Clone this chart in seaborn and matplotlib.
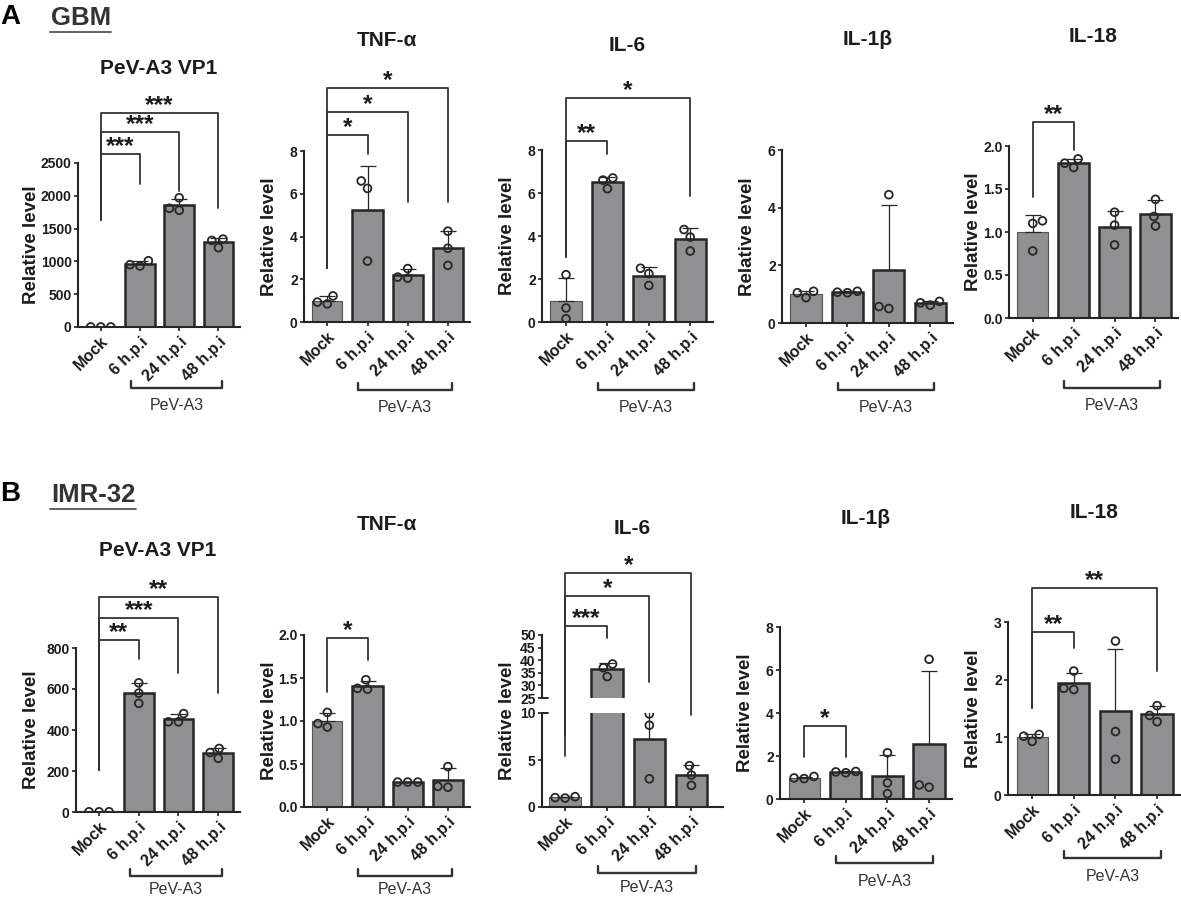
import numpy as np
import pandas as pd
import matplotlib
matplotlib.use("Agg")
import matplotlib.pyplot as plt
import matplotlib.transforms as mtransforms
from matplotlib.lines import Line2D
import seaborn as sns

# --- values (3 replicates per group) ---
GROUPS = ["Mock", "6 h.p.i", "24 h.p.i", "48 h.p.i"]
TARGETS = ["PeV-A3 VP1", "TNF-α", "IL-6", "IL-1β", "IL-18"]

# A: GBM
GBM_VP1 = [[1.0, 0.9, 1.1], [1010, 950, 930], [1970, 1810, 1780], [1340, 1320, 1210]]
GBM_TNF = [[1.22, 0.85, 0.93], [6.6, 6.25, 2.85], [2.5, 2.1, 2.05], [4.25, 3.45, 2.65]]
GBM_IL6 = [[2.2, 0.65, 0.15], [6.7, 6.6, 6.2], [2.5, 2.25, 1.7], [4.3, 3.95, 3.3]]
GBM_IL1B = [[1.1, 0.88, 1.05], [1.05, 1.1, 1.07], [4.45, 0.5, 0.57], [0.62, 0.75, 0.7]]
GBM_IL18 = [[1.13, 1.1, 0.78], [1.85, 1.8, 1.75], [1.23, 1.08, 0.85], [1.38, 1.18, 1.07]]

# B: IMR-32
IMR_VP1 = [[1.0, 0.9, 1.1], [630, 580, 530], [480, 440, 440], [310, 290, 262]]
IMR_TNF = [[1.1, 0.97, 0.93], [1.48, 1.38, 1.37], [0.29, 0.29, 0.29], [0.47, 0.23, 0.24]]
IMR_IL6 = [[0.95, 1.1, 1.0], [38.5, 37.0, 33.5], [9.9, 8.7, 3.0], [4.4, 3.4, 2.3]]
IMR_IL1B = [[0.95, 1.05, 0.98], [1.22, 1.28, 1.26], [2.15, 0.75, 0.25], [6.5, 0.55, 0.65]]
IMR_IL18 = [[1.05, 0.93, 1.02], [2.15, 1.83, 1.85], [2.67, 1.1, 0.62], [1.55, 1.38, 1.27]]

# significance brackets: (group a, group b, bracket height, left foot, right foot, label)
GBM_SIG = [
    [(0, 1, 2637, 1631, 2180, "***"), (0, 2, 2973, 1631, 2073, "***"), (0, 3, 3262, 1631, 1814, "***")],
    [(0, 1, 8.75, 2.53, 7.86, "*"), (0, 2, 9.82, 2.53, 5.61, "*"), (0, 3, 10.95, 2.53, 5.61, "*")],
    [(0, 1, 8.42, 3.02, 7.81, "**"), (0, 3, 10.42, 3.02, 5.86, "*")],
    [],
    [(0, 1, 2.28, 1.41, 1.95, "**")],
]
IMR_SIG = [
    [(0, 1, 839, 205, 746, "**"), (0, 2, 946, 205, 678, "***"), (0, 3, 1049, 205, 580, "**")],
    [(0, 1, 1.965, 1.34, 1.71, "*")],
    [(0, 1, 53.6, 2.0, 48.8, "***"), (0, 2, 65.5, 10.3, 31.3, "*"), (0, 3, 74.6, 10.3, 18.3, "*")],
    [(0, 1, 3.40, 1.95, 1.95, "*")],
    [(0, 1, 2.83, 1.51, 2.55, "**"), (0, 3, 3.59, 1.51, 2.15, "**")],
]

# --- layout (pixels in a 1181 x 897 canvas) ---
W, H = 1181, 897
BAR = "#8f9094"
EDGE = "#262626"
INK = "#1c1c1c"

# (left, right, top, bottom), title y, y-label offset, group bracket y, group text y, y range, y ticks
GBM_LAYOUT = [
    ((78, 240, 163, 327), 68, 46, 388, 406, (0, 2500), [0, 500, 1000, 1500, 2000, 2500]),
    ((304, 470, 151, 322), 40, 34, 390, 407, (0, 8), [0, 2, 4, 6, 8]),
    ((542, 713, 150, 322), 45, 35, 390, 407, (0, 8), [0, 2, 4, 6, 8]),
    ((782, 953, 150, 323), 40, 34, 390, 407, (0, 6), [0, 2, 4, 6]),
    ((1009, 1178, 146, 318), 37, 35, 388, 405, (0, 2), [0, 0.5, 1.0, 1.5, 2.0]),
]
IMR_LAYOUT = [
    ((76, 240, 648, 812), 550, 44, 876, 889, (0, 800), [0, 200, 400, 600, 800]),
    ((304, 470, 635, 807), 525, 34, 876, 889, (0, 2), [0, 0.5, 1.0, 1.5, 2.0]),
    ((542, 723, 635, 807), 528, 35, 873, 887, None, None),
    ((780, 952, 627, 799), 518, 34, 863, 881, (0, 8), [0, 2, 4, 6, 8]),
    ((1008, 1180, 622, 795), 512, 34, 858, 876, (0, 3), [0, 1, 2, 3]),
]


def px_axes(fig, l, r, t, b):
    return fig.add_axes([l / W, 1 - b / H, (r - l) / W, (b - t) / H])


def draw_bars(ax, reps):
    df = pd.DataFrame({"group": np.repeat(GROUPS, 3), "value": np.concatenate(reps)})
    sns.barplot(data=df, x="group", y="value", order=GROUPS, errorbar=None,
                color=BAR, edgecolor=EDGE, linewidth=1.8, width=0.75, ax=ax, zorder=1)
    ax.patches[0].set_linewidth(0.8)
    ax.patches[0].set_edgecolor("#555555")
    # mean + SD, upper whisker only
    stats = df.groupby("group", sort=False)["value"].agg(["mean", "std"])
    ax.errorbar(np.arange(4), stats["mean"].values,
                yerr=[np.zeros(4), stats["std"].values], fmt="none",
                ecolor=EDGE, elinewidth=0.9, capsize=5.5, capthick=0.9, zorder=3)
    n = len(ax.collections)
    sns.swarmplot(data=df, x="group", y="value", order=GROUPS, color="white",
                  edgecolor=EDGE, linewidth=1.3, size=5.6, ax=ax, zorder=4)
    for c in ax.collections[n:]:
        c.set_facecolor("none")


def style_axes(ax, ylim, yticks, xlim=(-0.58, 3.55), xlabels=True):
    ax.set_xlim(*xlim)
    ax.set_ylim(*ylim)
    ax.set_yticks(yticks)
    ax.set_xlabel("")
    ax.set_ylabel("")
    sns.despine(ax=ax)
    for s in ["left", "bottom"]:
        ax.spines[s].set_linewidth(1.5)
        ax.spines[s].set_color(EDGE)
    ax.tick_params(axis="y", width=1.2, length=3, labelsize=10, pad=1.5, colors=INK)
    ax.tick_params(axis="x", width=1.2, length=3, labelsize=11.5, pad=2, colors=INK)
    for t in ax.get_yticklabels():
        t.set_fontweight("bold")
    if xlabels:
        plt.setp(ax.get_xticklabels(), rotation=45, ha="right",
                 rotation_mode="anchor", fontweight="bold")
    else:
        ax.spines["bottom"].set_visible(False)
        ax.tick_params(axis="x", length=0, labelbottom=False)


def add_sig(ax, sigs):
    for a, b, y, yl, yr, label in sigs:
        ax.plot([a, a, b, b], [yl, y, y, yr], color="#333333", lw=1.3,
                clip_on=False, zorder=5)
        ax.annotate(label, xy=((a + b) / 2, y), xytext=(0, 0.5), textcoords="offset points",
                    ha="center", va="baseline", fontsize=17.5, fontweight="bold",
                    color=INK, annotation_clip=False)


def add_group(ax, box, line_y, text_y):
    l, r, t, b = box
    h = b - t
    tr = mtransforms.blended_transform_factory(ax.transData, ax.transAxes)
    yb = (b - line_y) / h
    tick = 7 / h
    ax.plot([0.77, 0.77, 3.1, 3.1], [yb + tick, yb, yb, yb + tick], transform=tr,
            clip_on=False, color="#333333", lw=1.7)
    ax.text(1.93, (b - text_y) / h, "PeV-A3", transform=tr, ha="center", va="center",
            fontsize=11.5, color="#333333")


def add_labels(ax, box, title_y, label_off, title, label_y=None):
    l, r, t, b = box
    h = b - t
    ax.text(0.5, (b - title_y) / h, title, transform=ax.transAxes, ha="center",
            va="center", fontsize=15, fontweight="bold", color=INK)
    ly = 0.5 if label_y is None else (b - label_y) / h
    ax.text(-label_off / (r - l), ly, "Relative level", transform=ax.transAxes,
            rotation=90, ha="center", va="center", fontsize=13.5,
            fontweight="bold", color=INK)


sns.set_theme(style="ticks")
plt.rcParams["font.family"] = ["Liberation Sans", "DejaVu Sans"]

fig = plt.figure(figsize=(W / 100, H / 100), dpi=100)

# ---- row A: GBM ----
for reps, sigs, (box, ty, loff, gy, gty, ylim, yticks), title in zip(
        [GBM_VP1, GBM_TNF, GBM_IL6, GBM_IL1B, GBM_IL18], GBM_SIG, GBM_LAYOUT, TARGETS):
    ax = px_axes(fig, *box)
    draw_bars(ax, reps)
    style_axes(ax, ylim, yticks)
    add_sig(ax, sigs)
    add_group(ax, box, gy, gty)
    add_labels(ax, box, ty, loff, title)

# ---- row B: IMR-32 ----
for i, (reps, sigs, (box, ty, loff, gy, gty, ylim, yticks), title) in enumerate(zip(
        [IMR_VP1, IMR_TNF, IMR_IL6, IMR_IL1B, IMR_IL18], IMR_SIG, IMR_LAYOUT, TARGETS)):
    l, r, t, b = box
    if i == 2:
        # broken y axis: 0-10 below, 25-50 above
        low = px_axes(fig, l, r, 713, b)
        high = px_axes(fig, l, r, t, 698)
        draw_bars(low, reps)
        draw_bars(high, reps)
        style_axes(low, (0, 10), [0, 5, 10], xlim=(-0.55, 3.75))
        style_axes(high, (25, 50), [25, 30, 35, 40, 45, 50], xlim=(-0.55, 3.75), xlabels=False)
        for a_, yy in [(low, 1), (high, 0)]:
            a_.plot([0, 0.035], [yy, yy], transform=a_.transAxes, color=EDGE,
                    lw=1.4, clip_on=False)
        add_sig(high, sigs)
        low_box = (l, r, 713, b)
        add_group(low, low_box, gy, gty)
        add_labels(low, low_box, ty, loff, title, label_y=(t + b) / 2)
    else:
        ax = px_axes(fig, *box)
        draw_bars(ax, reps)
        style_axes(ax, ylim, yticks)
        add_sig(ax, sigs)
        add_group(ax, box, gy, gty)
        add_labels(ax, box, ty, loff, title)

# ---- panel letters and cell lines ----
for letter, name, y, x2 in [("A", "GBM", 17, 111), ("B", "IMR-32", 494, 136)]:
    fig.text(10 / W, 1 - y / H, letter, fontsize=20, fontweight="bold",
             ha="center", va="center", color="black")
    fig.text(51 / W, 1 - (y + 1) / H, name, fontsize=18.5, fontweight="bold",
             ha="left", va="center", color="#333333")
    fig.add_artist(Line2D([50 / W, x2 / W], [1 - (y + 15) / H] * 2,
                          color="#555555", lw=1.3))

fig.savefig("out.png", dpi=100)
